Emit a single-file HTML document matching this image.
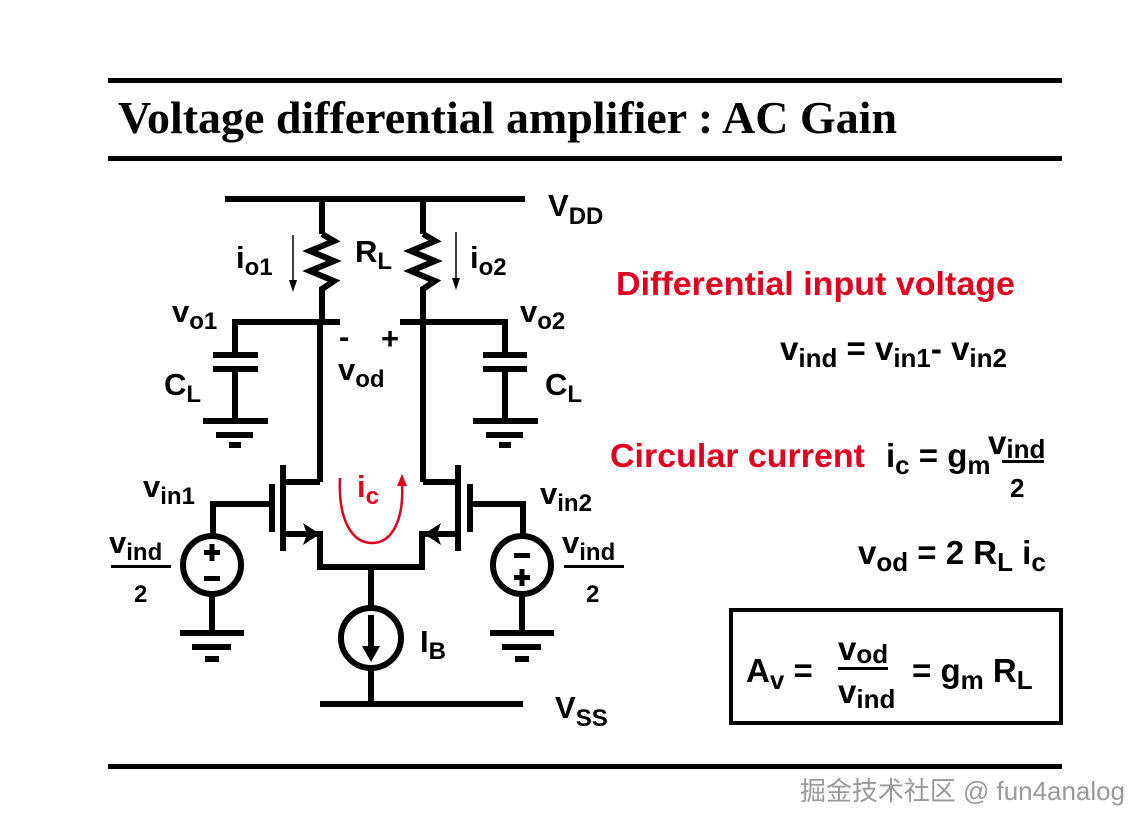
<!DOCTYPE html>
<html><head><meta charset="utf-8"><style>
html,body{margin:0;padding:0;background:#fff;}
svg{display:block;font-family:"Liberation Sans",sans-serif;font-weight:bold;}
</style></head><body>
<svg width="1146" height="829" viewBox="0 0 1146 829" xmlns="http://www.w3.org/2000/svg">
<rect x="0" y="0" width="1146" height="829" fill="#fff"/>
<rect x="108" y="78" width="954" height="5" fill="#000"/>
<rect x="108" y="156" width="954" height="5" fill="#000"/>
<rect x="108" y="764" width="954" height="5" fill="#000"/>
<text x="118" y="133" font-family="Liberation Serif,serif" font-size="45" font-weight="bold" textLength="779" lengthAdjust="spacingAndGlyphs">Voltage differential amplifier : AC Gain</text>

<g stroke="#000" stroke-width="6" fill="none" stroke-linecap="butt">
<line x1="225" y1="199" x2="525" y2="199"/>
<line x1="322" y1="199" x2="322" y2="234"/>
<line x1="423" y1="199" x2="423" y2="234"/>
<polyline points="322,234 334,241 310,251 334,261 310,271 334,281 322,289 322,322"/>
<polyline points="423,234 435,241 411,251 435,261 411,271 435,281 423,289 423,322"/>
<polyline points="235,355 235,322 340,322"/>
<polyline points="505,355 505,322 400,322"/>
<line x1="320" y1="322" x2="320" y2="482"/>
<line x1="423" y1="322" x2="423" y2="482"/>
<line x1="213" y1="355" x2="258" y2="355"/>
<line x1="213" y1="369" x2="258" y2="369"/>
<line x1="235" y1="369" x2="235" y2="421"/>
<line x1="203" y1="421" x2="268" y2="421"/>
<line x1="216" y1="435" x2="253" y2="435"/>
<line x1="229" y1="445" x2="241" y2="445"/>
<line x1="483" y1="355" x2="527" y2="355"/>
<line x1="483" y1="369" x2="527" y2="369"/>
<line x1="505" y1="369" x2="505" y2="421"/>
<line x1="473" y1="421" x2="538" y2="421"/>
<line x1="486" y1="435" x2="523" y2="435"/>
<line x1="499" y1="445" x2="511" y2="445"/>
<polyline points="320,482 283,482"/>
<line x1="283" y1="465" x2="283" y2="551"/>
<line x1="272" y1="484" x2="272" y2="532"/>
<polyline points="213,537 213,504 272,504"/>
<polyline points="283,534 320,534 320,567 422,567 422,534 458,534"/>
<polyline points="423,482 458,482"/>
<line x1="458" y1="465" x2="458" y2="551"/>
<line x1="470" y1="484" x2="470" y2="532"/>
<polyline points="523,537 523,504 470,504"/>
<circle cx="212" cy="565" r="29"/>
<circle cx="522" cy="565" r="29"/>
<line x1="212" y1="594" x2="212" y2="633"/>
<line x1="522" y1="594" x2="522" y2="633"/>
<line x1="180" y1="633" x2="244" y2="633"/>
<line x1="192" y1="647" x2="231" y2="647"/>
<line x1="205" y1="659" x2="219" y2="659"/>
<line x1="490" y1="633" x2="554" y2="633"/>
<line x1="502" y1="647" x2="541" y2="647"/>
<line x1="515" y1="659" x2="529" y2="659"/>
<line x1="371" y1="567" x2="371" y2="608"/>
<circle cx="371" cy="638" r="30"/>
<line x1="371" y1="668" x2="371" y2="704"/>
<line x1="320" y1="704" x2="523" y2="704"/>
<line x1="371" y1="615" x2="371" y2="650"/>
</g>
<polygon points="320,534 303,523 307,534 303,545" fill="#000"/>
<polygon points="424,534 441,523 437,534 441,545" fill="#000"/>
<polygon points="362,646 380,646 371,662" fill="#000"/>
<rect x="204" y="550" width="16" height="5" fill="#000"/><rect x="209.5" y="544" width="5" height="17" fill="#000"/>
<rect x="204" y="576" width="16" height="5" fill="#000"/>
<rect x="514" y="553" width="16" height="5" fill="#000"/>
<rect x="514" y="575" width="16" height="5" fill="#000"/><rect x="519.5" y="569" width="5" height="17" fill="#000"/>
<g stroke="#000" stroke-width="1.5"><line x1="293" y1="235" x2="293" y2="285"/><line x1="456" y1="232" x2="456" y2="283"/></g>
<polygon points="289,280 297,280 293,292" fill="#000"/>
<polygon points="452,278 460,278 456,290" fill="#000"/>
<path d="M340,478 C338,520 352,543 372,543 C392,543 404,520 402,484" stroke="#e00020" stroke-width="2.5" fill="none"/>
<polygon points="397,486 407,486 402,474" fill="#e00020"/>

<g font-size="31">
<text x="548" y="216">V<tspan font-size="24" dy="8">DD</tspan></text>
<text x="555" y="718">V<tspan font-size="24" dy="8">SS</tspan></text>
<text x="236" y="268">i<tspan font-size="24" dy="7">o1</tspan></text>
<text x="470" y="268">i<tspan font-size="24" dy="7">o2</tspan></text>
<text x="355" y="262">R<tspan font-size="24" dy="7">L</tspan></text>
<text x="172" y="322">v<tspan font-size="24" dy="7">o1</tspan></text>
<text x="520" y="322">v<tspan font-size="24" dy="7">o2</tspan></text>
<text x="339" y="347">-</text>
<text x="381" y="349">+</text>
<text x="338" y="380">v<tspan font-size="24" dy="7">od</tspan></text>
<text x="164" y="395">C<tspan font-size="24" dy="7">L</tspan></text>
<text x="545" y="395">C<tspan font-size="24" dy="7">L</tspan></text>
<text x="143" y="497">v<tspan font-size="24" dy="7">in1</tspan></text>
<text x="540" y="504">v<tspan font-size="24" dy="7">in2</tspan></text>
<text x="109" y="553">v<tspan font-size="24" dy="7">ind</tspan></text>
<text x="134" y="602" font-size="24">2</text>
<text x="562" y="553">v<tspan font-size="24" dy="7">ind</tspan></text>
<text x="586" y="602" font-size="24">2</text>
<text x="420" y="652">I<tspan font-size="24" dy="7">B</tspan></text>
<text x="357" y="497" fill="#e00020">i<tspan font-size="24" dy="7">c</tspan></text>
</g>
<rect x="111" y="565" width="60" height="3" fill="#000"/>
<rect x="564" y="565" width="60" height="3" fill="#000"/>

<text x="616" y="295" font-size="33" fill="#e00020" textLength="399" lengthAdjust="spacingAndGlyphs">Differential input voltage</text>
<text x="610" y="467" font-size="33" fill="#e00020" textLength="255" lengthAdjust="spacingAndGlyphs">Circular current</text>
<g font-size="33">
<text x="780" y="360">v<tspan font-size="26" dy="7">ind</tspan><tspan dy="-7"> = v</tspan><tspan font-size="26" dy="7">in1</tspan><tspan dy="-7">- v</tspan><tspan font-size="26" dy="7">in2</tspan></text>
<text x="886" y="467">i<tspan font-size="26" dy="7">c</tspan><tspan dy="-7"> = g</tspan><tspan font-size="26" dy="7">m</tspan></text>
<text x="988" y="454">v<tspan font-size="26" dy="4">ind</tspan></text>
<text x="1010" y="497" font-size="26">2</text>
<text x="858" y="564">v<tspan font-size="26" dy="7">od</tspan><tspan dy="-7"> = 2 R</tspan><tspan font-size="26" dy="7">L</tspan><tspan dy="-7"> i</tspan><tspan font-size="26" dy="7">c</tspan></text>
<text x="746" y="682">A<tspan font-size="26" dy="7">v</tspan><tspan dy="-7"> =</tspan></text>
<text x="838" y="660">v<tspan font-size="26" dy="3">od</tspan></text>
<text x="838" y="703">v<tspan font-size="26" dy="5">ind</tspan></text>
<text x="912" y="682">= g<tspan font-size="26" dy="7">m</tspan><tspan dy="-7"> R</tspan><tspan font-size="26" dy="7">L</tspan></text>
</g>
<rect x="1002" y="460" width="42" height="3" fill="#000"/>
<rect x="838" y="667" width="50" height="3" fill="#000"/>
<rect x="731" y="610" width="330" height="113" fill="none" stroke="#000" stroke-width="4"/>
<text x="800" y="800" font-size="26" font-weight="normal" fill="#888" font-family="Liberation Sans,Noto Sans CJK SC,sans-serif" opacity="0.85" textLength="325" lengthAdjust="spacingAndGlyphs">掘金技术社区 @ fun4analog</text>
</svg>
</body></html>
